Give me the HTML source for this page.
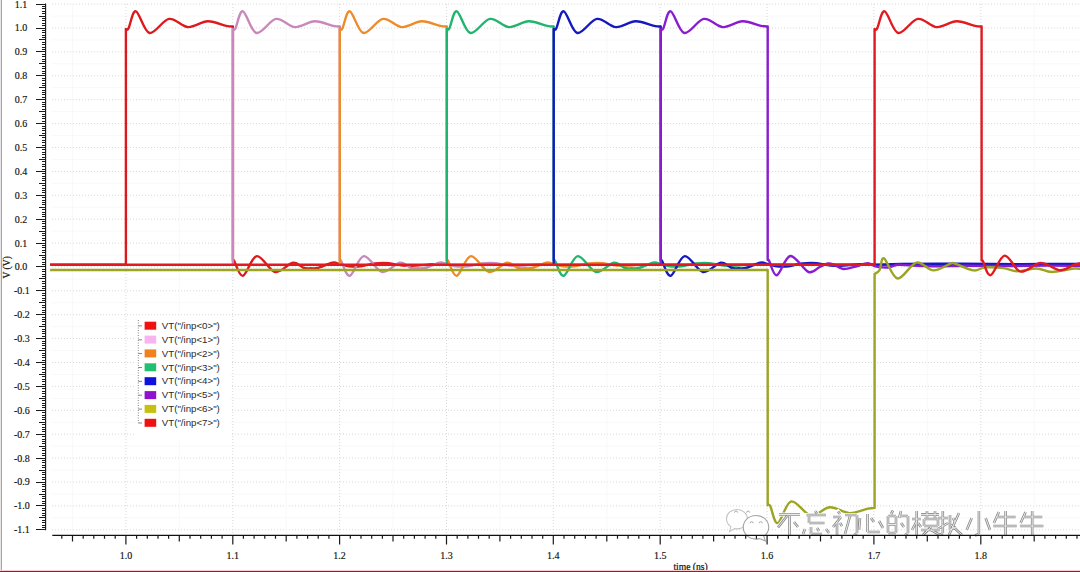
<!DOCTYPE html>
<html><head><meta charset="utf-8"><style>
html,body{margin:0;padding:0;background:#fff;}
body{width:1080px;height:572px;overflow:hidden;position:relative;}
svg{position:absolute;left:0;top:0;}
.gd{stroke:#d8d8d8;stroke-width:1;stroke-dasharray:1 2;}
.gs{stroke:#f8f8f8;stroke-width:1;}
.lab text{font-family:"Liberation Serif",serif;font-size:10px;fill:#111;stroke:#111;stroke-width:0.15px;}
.lab2{font-family:"Liberation Serif",serif;font-size:9.6px;fill:#111;stroke:#111;stroke-width:0.2px;}
.lt{font-family:"Liberation Sans",sans-serif;font-size:9.7px;fill:#2a2a2a;}
.wf path{fill:none;stroke-width:2.4;stroke-linejoin:round;stroke-linecap:butt;}
</style></head><body>
<svg width="1080" height="572" viewBox="0 0 1080 572">
<rect x="0" y="0" width="1" height="572" fill="#e6e6e6"/>
<rect x="1" y="0" width="1" height="572" fill="#a4a4a4"/>
<g><line x1="52" y1="529.8" x2="1080" y2="529.8" class="gd"/><line x1="52" y1="517.8" x2="1080" y2="517.8" class="gs"/><line x1="52" y1="505.9" x2="1080" y2="505.9" class="gd"/><line x1="52" y1="494.0" x2="1080" y2="494.0" class="gs"/><line x1="52" y1="482.0" x2="1080" y2="482.0" class="gd"/><line x1="52" y1="470.1" x2="1080" y2="470.1" class="gs"/><line x1="52" y1="458.1" x2="1080" y2="458.1" class="gd"/><line x1="52" y1="446.2" x2="1080" y2="446.2" class="gs"/><line x1="52" y1="434.2" x2="1080" y2="434.2" class="gd"/><line x1="52" y1="422.3" x2="1080" y2="422.3" class="gs"/><line x1="52" y1="410.3" x2="1080" y2="410.3" class="gd"/><line x1="52" y1="398.4" x2="1080" y2="398.4" class="gs"/><line x1="52" y1="386.4" x2="1080" y2="386.4" class="gd"/><line x1="52" y1="374.5" x2="1080" y2="374.5" class="gs"/><line x1="52" y1="362.5" x2="1080" y2="362.5" class="gd"/><line x1="52" y1="350.6" x2="1080" y2="350.6" class="gs"/><line x1="52" y1="338.6" x2="1080" y2="338.6" class="gd"/><line x1="52" y1="326.7" x2="1080" y2="326.7" class="gs"/><line x1="52" y1="314.7" x2="1080" y2="314.7" class="gd"/><line x1="52" y1="302.8" x2="1080" y2="302.8" class="gs"/><line x1="52" y1="290.8" x2="1080" y2="290.8" class="gd"/><line x1="52" y1="278.9" x2="1080" y2="278.9" class="gs"/><line x1="52" y1="266.9" x2="1080" y2="266.9" class="gd"/><line x1="52" y1="255.0" x2="1080" y2="255.0" class="gs"/><line x1="52" y1="243.1" x2="1080" y2="243.1" class="gd"/><line x1="52" y1="231.1" x2="1080" y2="231.1" class="gs"/><line x1="52" y1="219.2" x2="1080" y2="219.2" class="gd"/><line x1="52" y1="207.2" x2="1080" y2="207.2" class="gs"/><line x1="52" y1="195.3" x2="1080" y2="195.3" class="gd"/><line x1="52" y1="183.3" x2="1080" y2="183.3" class="gs"/><line x1="52" y1="171.4" x2="1080" y2="171.4" class="gd"/><line x1="52" y1="159.4" x2="1080" y2="159.4" class="gs"/><line x1="52" y1="147.5" x2="1080" y2="147.5" class="gd"/><line x1="52" y1="135.5" x2="1080" y2="135.5" class="gs"/><line x1="52" y1="123.6" x2="1080" y2="123.6" class="gd"/><line x1="52" y1="111.6" x2="1080" y2="111.6" class="gs"/><line x1="52" y1="99.7" x2="1080" y2="99.7" class="gd"/><line x1="52" y1="87.7" x2="1080" y2="87.7" class="gs"/><line x1="52" y1="75.8" x2="1080" y2="75.8" class="gd"/><line x1="52" y1="63.8" x2="1080" y2="63.8" class="gs"/><line x1="52" y1="51.9" x2="1080" y2="51.9" class="gd"/><line x1="52" y1="39.9" x2="1080" y2="39.9" class="gs"/><line x1="52" y1="28.0" x2="1080" y2="28.0" class="gd"/><line x1="52" y1="16.1" x2="1080" y2="16.1" class="gs"/><line x1="52" y1="4.1" x2="1080" y2="4.1" class="gd"/><line x1="72.5" y1="4" x2="72.5" y2="534" class="gs"/><line x1="125.9" y1="4" x2="125.9" y2="534" class="gd"/><line x1="179.3" y1="4" x2="179.3" y2="534" class="gs"/><line x1="232.8" y1="4" x2="232.8" y2="534" class="gd"/><line x1="286.2" y1="4" x2="286.2" y2="534" class="gs"/><line x1="339.6" y1="4" x2="339.6" y2="534" class="gd"/><line x1="393.0" y1="4" x2="393.0" y2="534" class="gs"/><line x1="446.5" y1="4" x2="446.5" y2="534" class="gd"/><line x1="499.9" y1="4" x2="499.9" y2="534" class="gs"/><line x1="553.3" y1="4" x2="553.3" y2="534" class="gd"/><line x1="606.8" y1="4" x2="606.8" y2="534" class="gs"/><line x1="660.2" y1="4" x2="660.2" y2="534" class="gd"/><line x1="713.6" y1="4" x2="713.6" y2="534" class="gs"/><line x1="767.1" y1="4" x2="767.1" y2="534" class="gd"/><line x1="820.5" y1="4" x2="820.5" y2="534" class="gs"/><line x1="873.9" y1="4" x2="873.9" y2="534" class="gd"/><line x1="927.3" y1="4" x2="927.3" y2="534" class="gs"/><line x1="980.8" y1="4" x2="980.8" y2="534" class="gd"/><line x1="1034.2" y1="4" x2="1034.2" y2="534" class="gs"/></g>
<g class="wf"><path d="M50.1 264.7L125.9 264.7L125.9 29.0C126.3 28.9 126.8 31.2 128.5 28.3C130.2 25.4 132.4 10.5 135.9 11.3C139.4 12.1 144.0 31.7 149.5 33.0C155.0 34.3 162.6 19.9 169.0 18.9C175.5 17.9 181.7 26.7 188.1 27.1C194.5 27.5 201.3 21.5 207.7 21.3C214.0 21.1 222.0 24.9 226.2 25.8C230.4 26.7 231.8 26.4 232.9 26.5L232.9 260.4L232.9 260.4C233.1 260.4 232.4 258.0 234.1 260.6C235.7 263.2 239.1 276.6 242.9 275.8C246.7 275.1 251.5 256.7 256.9 256.1C262.2 255.5 269.2 270.9 275.2 272.0C281.2 273.1 288.1 263.4 292.9 262.7C297.6 262.0 300.9 267.1 303.9 268.0C306.9 268.9 308.5 268.3 310.9 268.3C313.2 268.3 314.3 268.9 317.9 268.0C321.4 267.1 328.7 263.4 332.4 262.7C336.0 262.0 337.1 263.4 339.9 264.0C342.6 264.6 345.4 265.9 348.9 266.3C352.4 266.7 356.5 266.7 360.9 266.2C365.2 265.7 370.2 263.9 374.9 263.4C379.5 262.9 384.2 262.8 388.9 263.2C393.5 263.6 397.9 265.2 402.9 265.6C407.9 266.0 413.9 265.6 418.9 265.4C423.9 265.2 428.0 264.4 432.9 264.3C437.7 264.2 445.4 264.8 447.9 264.9L1082.0 264.7" stroke="#dc1a1e"/><path d="M232.9 264.7L232.9 29.0C233.3 28.9 233.8 31.2 235.5 28.3C237.1 25.4 239.4 10.5 242.9 11.3C246.4 12.1 250.9 31.7 256.4 33.0C262.0 34.3 269.6 19.9 276.0 18.9C282.4 17.9 288.6 26.7 295.1 27.1C301.5 27.5 308.3 21.5 314.6 21.3C321.0 21.1 329.0 24.9 333.2 25.8C337.4 26.7 338.7 26.4 339.8 26.5L339.8 260.4L339.8 260.4C340.0 260.4 339.4 258.0 341.0 260.6C342.7 263.2 346.0 276.6 349.8 275.8C353.6 275.1 358.4 256.7 363.8 256.1C369.2 255.5 376.1 270.9 382.1 272.0C388.1 273.1 395.0 263.4 399.8 262.7C404.6 262.0 407.8 267.1 410.8 268.0C413.8 268.9 415.5 268.3 417.8 268.3C420.2 268.3 421.2 268.9 424.8 268.0C428.4 267.1 435.7 263.4 439.3 262.7C443.0 262.0 444.1 263.4 446.8 264.0C449.6 264.6 452.3 265.9 455.8 266.3C459.3 266.7 463.5 266.7 467.8 266.2C472.2 265.7 477.2 263.9 481.8 263.4C486.5 262.9 491.2 262.8 495.8 263.2C500.5 263.6 504.8 265.2 509.8 265.6C514.8 266.0 520.8 265.6 525.8 265.4C530.8 265.2 535.0 264.4 539.8 264.3C544.7 264.2 552.3 264.8 554.8 264.9L1082.0 264.7" stroke="#c888bc"/><path d="M339.8 264.7L339.8 29.0C340.3 28.9 340.8 31.2 342.4 28.3C344.1 25.4 346.4 10.5 349.9 11.3C353.3 12.1 357.9 31.7 363.4 33.0C368.9 34.3 376.5 19.9 383.0 18.9C389.4 17.9 395.6 26.7 402.0 27.1C408.5 27.5 415.2 21.5 421.6 21.3C427.9 21.1 436.0 24.9 440.2 25.8C444.4 26.7 445.7 26.4 446.8 26.5L446.8 260.4L446.8 260.4C447.0 260.4 446.3 258.0 448.0 260.6C449.6 263.2 453.0 276.6 456.8 275.8C460.6 275.1 465.4 256.7 470.8 256.1C476.2 255.5 483.1 270.9 489.1 272.0C495.1 273.1 502.0 263.4 506.8 262.7C511.6 262.0 514.8 267.1 517.8 268.0C520.8 268.9 522.4 268.3 524.8 268.3C527.1 268.3 528.2 268.9 531.8 268.0C535.4 267.1 542.6 263.4 546.3 262.7C549.9 262.0 551.0 263.4 553.8 264.0C556.5 264.6 559.3 265.9 562.8 266.3C566.3 266.7 570.4 266.7 574.8 266.2C579.1 265.7 584.1 263.9 588.8 263.4C593.4 262.9 598.1 262.8 602.8 263.2C607.4 263.6 611.8 265.2 616.8 265.6C621.8 266.0 627.8 265.6 632.8 265.4C637.8 265.2 641.9 264.4 646.8 264.3C651.6 264.2 659.3 264.8 661.8 264.9L1082.0 264.7" stroke="#ee8a28"/><path d="M446.8 264.7L446.8 29.0C447.2 28.9 447.7 31.2 449.4 28.3C451.1 25.4 453.3 10.5 456.8 11.3C460.3 12.1 464.8 31.7 470.4 33.0C475.9 34.3 483.5 19.9 489.9 18.9C496.4 17.9 502.6 26.7 509.0 27.1C515.4 27.5 522.2 21.5 528.6 21.3C534.9 21.1 542.9 24.9 547.1 25.8C551.3 26.7 552.6 26.4 553.7 26.5L553.7 260.4L553.7 260.4C553.9 260.4 553.3 258.0 554.9 260.6C556.6 263.2 559.9 276.6 563.7 275.8C567.5 275.1 572.4 256.7 577.7 256.1C583.1 255.5 590.0 270.9 596.0 272.0C602.0 273.1 609.0 263.4 613.7 262.7C618.5 262.0 621.7 267.1 624.7 268.0C627.7 268.9 629.4 268.3 631.7 268.3C634.1 268.3 635.2 268.9 638.7 268.0C642.3 267.1 649.6 263.4 653.2 262.7C656.9 262.0 658.0 263.4 660.7 264.0C663.5 264.6 666.2 265.9 669.7 266.3C673.2 266.7 677.4 266.7 681.7 266.2C686.1 265.7 691.1 263.9 695.7 263.4C700.4 262.9 705.1 262.8 709.7 263.2C714.4 263.6 718.7 265.2 723.7 265.6C728.7 266.0 734.7 265.6 739.7 265.4C744.7 265.2 748.9 264.4 753.7 264.3C758.6 264.2 766.2 264.8 768.7 264.9L1082.0 264.7" stroke="#22b46e"/><path d="M553.7 264.7L553.7 29.0C554.2 28.9 554.7 31.2 556.3 28.3C558.0 25.4 560.3 10.5 563.8 11.3C567.3 12.1 571.8 31.7 577.3 33.0C582.8 34.3 590.4 19.9 596.9 18.9C603.3 17.9 609.5 26.7 615.9 27.1C622.4 27.5 629.2 21.5 635.5 21.3C641.9 21.1 649.9 24.9 654.1 25.8C658.3 26.7 659.6 26.4 660.7 26.5L660.7 260.4L660.7 260.4C660.9 260.4 660.2 258.0 661.9 260.6C663.6 263.2 666.9 276.6 670.7 275.8C674.5 275.1 679.3 256.7 684.7 256.1C690.1 255.5 697.0 270.9 703.0 272.0C709.0 273.1 715.9 263.4 720.7 262.7C725.5 262.0 728.7 267.1 731.7 268.0C734.7 268.9 736.4 268.3 738.7 268.3C741.0 268.3 742.1 268.9 745.7 268.0C749.3 267.1 756.5 263.4 760.2 262.7C763.9 262.0 764.9 263.4 767.7 264.0C770.4 264.6 773.2 265.9 776.7 266.3C780.2 266.7 784.4 266.7 788.7 266.2C793.0 265.7 798.0 263.9 802.7 263.4C807.4 262.9 812.0 262.8 816.7 263.2C821.4 263.6 825.7 265.2 830.7 265.6C835.7 266.0 841.7 265.6 846.7 265.4C851.7 265.2 855.9 264.4 860.7 264.3C865.5 264.2 869.0 264.9 875.7 264.9C882.4 264.8 886.5 264.2 900.7 264.0C914.9 263.8 940.7 263.8 960.7 263.8C980.7 263.8 1000.7 264.1 1020.7 264.1C1040.7 264.1 1070.7 263.9 1080.7 263.9" stroke="#1418c0"/><path d="M660.7 264.7L660.7 29.0C661.1 28.9 661.6 31.2 663.3 28.3C665.0 25.4 667.2 10.5 670.7 11.3C674.2 12.1 678.8 31.7 684.3 33.0C689.8 34.3 697.4 19.9 703.8 18.9C710.3 17.9 716.5 26.7 722.9 27.1C729.3 27.5 736.1 21.5 742.5 21.3C748.8 21.1 756.8 24.9 761.0 25.8C765.2 26.7 766.6 26.4 767.7 26.5L767.7 260.0L767.7 260.0C767.9 260.1 767.3 257.8 768.9 260.3C770.4 262.8 773.2 275.9 776.8 275.2C780.3 274.5 785.1 256.5 790.4 256.0C795.6 255.5 803.6 270.2 808.5 272.0C813.3 273.8 816.5 268.4 819.7 267.0C822.9 265.6 825.3 263.9 827.7 263.5C830.0 263.1 831.1 263.6 833.7 264.5C836.3 265.4 839.6 268.7 843.3 269.0C846.9 269.3 851.6 267.5 855.7 266.5C859.7 265.5 864.5 263.3 867.7 263.2C870.8 263.1 872.2 265.3 874.7 266.0C877.2 266.7 880.2 267.2 882.7 267.4C885.2 267.6 887.2 267.6 889.7 267.2C892.2 266.8 893.8 265.1 897.7 264.8C901.5 264.5 906.0 265.4 912.7 265.6C919.3 265.8 928.5 266.2 937.7 266.2C946.8 266.2 956.0 265.7 967.7 265.7C979.3 265.7 994.3 266.0 1007.7 266.0C1021.0 266.0 1035.2 265.6 1047.7 265.6C1060.2 265.6 1076.8 265.9 1082.7 266.0" stroke="#8a1cd0"/><path d="M50.1 270.0L767.7 270.0L767.7 505.4C768.1 505.5 768.6 503.1 770.3 506.1C771.9 509.0 774.2 523.9 777.7 523.1C781.2 522.3 785.7 502.7 791.2 501.4C796.8 500.1 804.4 514.5 810.8 515.5C817.2 516.5 823.4 507.7 829.9 507.3C836.3 506.9 843.1 512.9 849.4 513.1C855.8 513.3 863.8 509.5 868.0 508.6C872.2 507.7 873.5 508.0 874.6 507.9L874.6 274.0C875.5 273.3 878.1 272.6 879.6 270.0C881.2 267.4 881.0 257.0 884.0 258.4C887.0 259.8 892.2 277.8 897.6 278.5C903.0 279.2 910.5 264.0 916.4 262.6C922.4 261.2 927.6 270.2 933.3 270.4C939.0 270.6 946.9 264.7 950.6 263.6C954.3 262.5 951.8 262.8 955.6 263.9C959.5 265.0 968.7 269.8 973.6 270.4C978.5 271.0 980.2 267.8 985.1 267.4C990.1 267.0 998.0 267.5 1003.3 268.1C1008.7 268.8 1011.6 271.2 1017.1 271.3C1022.7 271.4 1030.8 268.4 1036.6 268.5C1042.4 268.6 1045.6 272.0 1051.8 272.0C1058.1 272.0 1068.6 268.9 1074.0 268.5C1079.5 268.1 1082.9 269.3 1084.6 269.5" stroke="#9ca424"/><path d="M50.1 264.7L874.6 264.7L874.6 29.0C875.1 28.9 875.6 31.2 877.2 28.3C878.9 25.4 881.2 10.5 884.7 11.3C888.1 12.1 892.7 31.7 898.2 33.0C903.7 34.3 911.3 19.9 917.8 18.9C924.2 17.9 930.4 26.7 936.8 27.1C943.3 27.5 950.0 21.5 956.4 21.3C962.7 21.1 970.8 24.9 975.0 25.8C979.2 26.7 980.5 26.4 981.6 26.5L981.6 260.6L981.6 260.6C981.8 260.6 981.3 258.4 982.8 260.8C984.3 263.2 986.9 276.1 990.6 275.2C994.2 274.3 999.6 256.2 1004.6 255.6C1009.6 255.0 1014.6 270.4 1020.6 271.6C1026.6 272.8 1034.1 263.1 1040.6 262.9C1047.1 262.7 1054.1 269.8 1059.6 270.2C1065.1 270.6 1070.2 266.1 1073.6 265.0C1076.9 263.9 1078.6 263.8 1079.6 263.5L1082.0 264.7" stroke="#e01a1e"/></g>
<g><path d="M737 509.5c-6 0 -10.5 4 -10.5 9.5c0 3.2 1.7 5.8 4.4 7.6l-1.4 5l5.2 -3c0.7 0.2 1.5 0.3 2.3 0.3c6 0 10.5 -4.2 10.5 -9.6c0 -5.6 -4.5 -9.8 -10.5 -9.8z" fill="#fff" stroke="#c4c4c4" stroke-width="1.1"/><path d="M756 515.5c-7.2 0 -12.7 5.2 -12.7 11.8c0 6.6 5.5 11.8 12.7 11.8c1.2 0 2.3 -0.2 3.4 -0.5l6 2.4l-1.6 -4.6c3 -2.2 4.9 -5.5 4.9 -9.1c0 -6.6 -5.5 -11.8 -12.7 -11.8z" fill="#fff" stroke="#a4a4a4" stroke-width="1.1"/><path d="M734.6 512.6a1.5 1.5 0 0 1 3 0M746.6 512.6a1.5 1.5 0 0 1 3 0M750.2 523.2a1.5 1.5 0 0 1 3 0M759.2 523.2a1.5 1.5 0 0 1 3 0" fill="none" stroke="#a8a8a8" stroke-width="1"/><path d="M779.0 514.5L800.0 514.5M787.0 516.0L778.0 527.5M789.5 516.0L789.5 535.0M794.0 522.0L798.0 527.0M815.0 511.0L817.0 513.5M806.5 515.0L826.0 515.0M809.0 515.5L809.0 523.0M809.0 523.0L824.5 523.0M805.0 529.0L803.0 534.0M811.0 527.0L811.0 534.0M811.0 534.0L822.0 534.0M817.0 528.0L819.0 531.0M826.0 529.0L829.0 533.0M838.0 511.5L840.0 514.0M833.0 517.0L841.0 517.0M841.0 517.0L833.0 527.0M837.0 522.0L837.0 535.0M840.0 523.0L842.0 526.0M845.0 515.0L857.0 515.0M857.0 515.0L857.0 533.0M857.0 533.0L854.0 535.0M850.0 516.0L845.0 534.0M860.0 518.0L859.0 530.0M867.5 514.0L867.5 532.0M867.5 532.0L880.0 532.0M871.0 518.0L874.0 522.0M879.0 521.0L883.0 528.0M893.0 510.5L891.0 514.0M888.0 516.0L888.0 533.0M888.0 516.0L896.0 516.0M896.0 516.0L896.0 533.0M888.0 524.5L896.0 524.5M888.0 533.0L896.0 533.0M901.0 511.0L899.0 518.0M899.0 516.0L908.0 516.0M908.0 516.0L908.0 533.0M908.0 533.0L905.0 535.0M901.0 523.0L904.0 527.0M912.0 519.0L921.0 519.0M916.7 511.0L916.7 535.0M916.7 521.0L912.0 530.0M918.0 523.0L921.0 527.0M921.0 514.4L939.0 514.4M927.0 511.0L927.0 518.0M935.0 511.0L935.0 518.0M924.0 519.0L938.0 519.0M924.0 519.0L924.0 526.0M938.0 519.0L938.0 526.0M924.0 526.0L938.0 526.0M921.0 530.0L940.0 530.0M931.0 527.0L923.0 535.0M931.0 530.0L940.0 535.0M938.0 518.0L948.0 518.0M942.8 511.0L942.8 533.0M942.8 533.0L940.0 535.0M938.0 529.0L948.0 523.0M950.0 515.0L950.0 530.0M950.0 530.0L956.0 527.0M953.0 518.0L955.0 522.0M959.0 513.0L949.0 535.0M951.0 525.0L962.0 535.0M978.9 511.0L978.9 534.0M978.9 534.0L975.0 535.5M971.7 518.0L966.7 530.0M985.6 518.0L990.0 530.0M998.9 512.0L993.9 523.0M996.7 517.0L1015.6 517.0M993.3 526.0L1016.7 526.0M1005.6 511.0L1005.6 535.0M1025.6 512.0L1020.6 523.0M1023.3 517.0L1042.3 517.0M1020.0 526.0L1043.4 526.0M1032.2 511.0L1032.2 535.0" stroke="#ffffff" stroke-width="4.2" stroke-linecap="square" fill="none"/><path d="M779.0 514.5L800.0 514.5M787.0 516.0L778.0 527.5M789.5 516.0L789.5 535.0M794.0 522.0L798.0 527.0M815.0 511.0L817.0 513.5M806.5 515.0L826.0 515.0M809.0 515.5L809.0 523.0M809.0 523.0L824.5 523.0M805.0 529.0L803.0 534.0M811.0 527.0L811.0 534.0M811.0 534.0L822.0 534.0M817.0 528.0L819.0 531.0M826.0 529.0L829.0 533.0M838.0 511.5L840.0 514.0M833.0 517.0L841.0 517.0M841.0 517.0L833.0 527.0M837.0 522.0L837.0 535.0M840.0 523.0L842.0 526.0M845.0 515.0L857.0 515.0M857.0 515.0L857.0 533.0M857.0 533.0L854.0 535.0M850.0 516.0L845.0 534.0M860.0 518.0L859.0 530.0M867.5 514.0L867.5 532.0M867.5 532.0L880.0 532.0M871.0 518.0L874.0 522.0M879.0 521.0L883.0 528.0M893.0 510.5L891.0 514.0M888.0 516.0L888.0 533.0M888.0 516.0L896.0 516.0M896.0 516.0L896.0 533.0M888.0 524.5L896.0 524.5M888.0 533.0L896.0 533.0M901.0 511.0L899.0 518.0M899.0 516.0L908.0 516.0M908.0 516.0L908.0 533.0M908.0 533.0L905.0 535.0M901.0 523.0L904.0 527.0M912.0 519.0L921.0 519.0M916.7 511.0L916.7 535.0M916.7 521.0L912.0 530.0M918.0 523.0L921.0 527.0M921.0 514.4L939.0 514.4M927.0 511.0L927.0 518.0M935.0 511.0L935.0 518.0M924.0 519.0L938.0 519.0M924.0 519.0L924.0 526.0M938.0 519.0L938.0 526.0M924.0 526.0L938.0 526.0M921.0 530.0L940.0 530.0M931.0 527.0L923.0 535.0M931.0 530.0L940.0 535.0M938.0 518.0L948.0 518.0M942.8 511.0L942.8 533.0M942.8 533.0L940.0 535.0M938.0 529.0L948.0 523.0M950.0 515.0L950.0 530.0M950.0 530.0L956.0 527.0M953.0 518.0L955.0 522.0M959.0 513.0L949.0 535.0M951.0 525.0L962.0 535.0M978.9 511.0L978.9 534.0M978.9 534.0L975.0 535.5M971.7 518.0L966.7 530.0M985.6 518.0L990.0 530.0M998.9 512.0L993.9 523.0M996.7 517.0L1015.6 517.0M993.3 526.0L1016.7 526.0M1005.6 511.0L1005.6 535.0M1025.6 512.0L1020.6 523.0M1023.3 517.0L1042.3 517.0M1020.0 526.0L1043.4 526.0M1032.2 511.0L1032.2 535.0" stroke="#8c8c8c" stroke-width="2.6" stroke-linecap="butt" fill="none"/><path d="M779.0 514.5L800.0 514.5M787.0 516.0L778.0 527.5M789.5 516.0L789.5 535.0M794.0 522.0L798.0 527.0M815.0 511.0L817.0 513.5M806.5 515.0L826.0 515.0M809.0 515.5L809.0 523.0M809.0 523.0L824.5 523.0M805.0 529.0L803.0 534.0M811.0 527.0L811.0 534.0M811.0 534.0L822.0 534.0M817.0 528.0L819.0 531.0M826.0 529.0L829.0 533.0M838.0 511.5L840.0 514.0M833.0 517.0L841.0 517.0M841.0 517.0L833.0 527.0M837.0 522.0L837.0 535.0M840.0 523.0L842.0 526.0M845.0 515.0L857.0 515.0M857.0 515.0L857.0 533.0M857.0 533.0L854.0 535.0M850.0 516.0L845.0 534.0M860.0 518.0L859.0 530.0M867.5 514.0L867.5 532.0M867.5 532.0L880.0 532.0M871.0 518.0L874.0 522.0M879.0 521.0L883.0 528.0M893.0 510.5L891.0 514.0M888.0 516.0L888.0 533.0M888.0 516.0L896.0 516.0M896.0 516.0L896.0 533.0M888.0 524.5L896.0 524.5M888.0 533.0L896.0 533.0M901.0 511.0L899.0 518.0M899.0 516.0L908.0 516.0M908.0 516.0L908.0 533.0M908.0 533.0L905.0 535.0M901.0 523.0L904.0 527.0M912.0 519.0L921.0 519.0M916.7 511.0L916.7 535.0M916.7 521.0L912.0 530.0M918.0 523.0L921.0 527.0M921.0 514.4L939.0 514.4M927.0 511.0L927.0 518.0M935.0 511.0L935.0 518.0M924.0 519.0L938.0 519.0M924.0 519.0L924.0 526.0M938.0 519.0L938.0 526.0M924.0 526.0L938.0 526.0M921.0 530.0L940.0 530.0M931.0 527.0L923.0 535.0M931.0 530.0L940.0 535.0M938.0 518.0L948.0 518.0M942.8 511.0L942.8 533.0M942.8 533.0L940.0 535.0M938.0 529.0L948.0 523.0M950.0 515.0L950.0 530.0M950.0 530.0L956.0 527.0M953.0 518.0L955.0 522.0M959.0 513.0L949.0 535.0M951.0 525.0L962.0 535.0M978.9 511.0L978.9 534.0M978.9 534.0L975.0 535.5M971.7 518.0L966.7 530.0M985.6 518.0L990.0 530.0M998.9 512.0L993.9 523.0M996.7 517.0L1015.6 517.0M993.3 526.0L1016.7 526.0M1005.6 511.0L1005.6 535.0M1025.6 512.0L1020.6 523.0M1023.3 517.0L1042.3 517.0M1020.0 526.0L1043.4 526.0M1032.2 511.0L1032.2 535.0" stroke="#f4f4f4" stroke-width="0.9" stroke-linecap="butt" fill="none"/></g>
<path d="M36.2 529.8H45M42.2 527.4H45M42.2 525.0H45M42.2 522.6H45M42.2 520.2H45M39.3 517.8H45M42.2 515.5H45M42.2 513.1H45M42.2 510.7H45M42.2 508.3H45M36.2 505.9H45M42.2 503.5H45M42.2 501.1H45M42.2 498.7H45M42.2 496.3H45M39.3 494.0H45M42.2 491.6H45M42.2 489.2H45M42.2 486.8H45M42.2 484.4H45M36.2 482.0H45M42.2 479.6H45M42.2 477.2H45M42.2 474.8H45M42.2 472.4H45M39.3 470.1H45M42.2 467.7H45M42.2 465.3H45M42.2 462.9H45M42.2 460.5H45M36.2 458.1H45M42.2 455.7H45M42.2 453.3H45M42.2 450.9H45M42.2 448.6H45M39.3 446.2H45M42.2 443.8H45M42.2 441.4H45M42.2 439.0H45M42.2 436.6H45M36.2 434.2H45M42.2 431.8H45M42.2 429.4H45M42.2 427.0H45M42.2 424.7H45M39.3 422.3H45M42.2 419.9H45M42.2 417.5H45M42.2 415.1H45M42.2 412.7H45M36.2 410.3H45M42.2 407.9H45M42.2 405.5H45M42.2 403.2H45M42.2 400.8H45M39.3 398.4H45M42.2 396.0H45M42.2 393.6H45M42.2 391.2H45M42.2 388.8H45M36.2 386.4H45M42.2 384.0H45M42.2 381.6H45M42.2 379.3H45M42.2 376.9H45M39.3 374.5H45M42.2 372.1H45M42.2 369.7H45M42.2 367.3H45M42.2 364.9H45M36.2 362.5H45M42.2 360.1H45M42.2 357.8H45M42.2 355.4H45M42.2 353.0H45M39.3 350.6H45M42.2 348.2H45M42.2 345.8H45M42.2 343.4H45M42.2 341.0H45M36.2 338.6H45M42.2 336.2H45M42.2 333.9H45M42.2 331.5H45M42.2 329.1H45M39.3 326.7H45M42.2 324.3H45M42.2 321.9H45M42.2 319.5H45M42.2 317.1H45M36.2 314.7H45M42.2 312.4H45M42.2 310.0H45M42.2 307.6H45M42.2 305.2H45M39.3 302.8H45M42.2 300.4H45M42.2 298.0H45M42.2 295.6H45M42.2 293.2H45M36.2 290.8H45M42.2 288.5H45M42.2 286.1H45M42.2 283.7H45M42.2 281.3H45M39.3 278.9H45M42.2 276.5H45M42.2 274.1H45M42.2 271.7H45M42.2 269.3H45M36.2 266.9H45M42.2 264.6H45M42.2 262.2H45M42.2 259.8H45M42.2 257.4H45M39.3 255.0H45M42.2 252.6H45M42.2 250.2H45M42.2 247.8H45M42.2 245.4H45M36.2 243.1H45M42.2 240.7H45M42.2 238.3H45M42.2 235.9H45M42.2 233.5H45M39.3 231.1H45M42.2 228.7H45M42.2 226.3H45M42.2 223.9H45M42.2 221.5H45M36.2 219.2H45M42.2 216.8H45M42.2 214.4H45M42.2 212.0H45M42.2 209.6H45M39.3 207.2H45M42.2 204.8H45M42.2 202.4H45M42.2 200.0H45M42.2 197.7H45M36.2 195.3H45M42.2 192.9H45M42.2 190.5H45M42.2 188.1H45M42.2 185.7H45M39.3 183.3H45M42.2 180.9H45M42.2 178.5H45M42.2 176.1H45M42.2 173.8H45M36.2 171.4H45M42.2 169.0H45M42.2 166.6H45M42.2 164.2H45M42.2 161.8H45M39.3 159.4H45M42.2 157.0H45M42.2 154.6H45M42.2 152.3H45M42.2 149.9H45M36.2 147.5H45M42.2 145.1H45M42.2 142.7H45M42.2 140.3H45M42.2 137.9H45M39.3 135.5H45M42.2 133.1H45M42.2 130.7H45M42.2 128.4H45M42.2 126.0H45M36.2 123.6H45M42.2 121.2H45M42.2 118.8H45M42.2 116.4H45M42.2 114.0H45M39.3 111.6H45M42.2 109.2H45M42.2 106.9H45M42.2 104.5H45M42.2 102.1H45M36.2 99.7H45M42.2 97.3H45M42.2 94.9H45M42.2 92.5H45M42.2 90.1H45M39.3 87.7H45M42.2 85.3H45M42.2 83.0H45M42.2 80.6H45M42.2 78.2H45M36.2 75.8H45M42.2 73.4H45M42.2 71.0H45M42.2 68.6H45M42.2 66.2H45M39.3 63.8H45M42.2 61.5H45M42.2 59.1H45M42.2 56.7H45M42.2 54.3H45M36.2 51.9H45M42.2 49.5H45M42.2 47.1H45M42.2 44.7H45M42.2 42.3H45M39.3 39.9H45M42.2 37.6H45M42.2 35.2H45M42.2 32.8H45M42.2 30.4H45M36.2 28.0H45M42.2 25.6H45M42.2 23.2H45M42.2 20.8H45M42.2 18.4H45M39.3 16.1H45M42.2 13.7H45M42.2 11.3H45M42.2 8.9H45M42.2 6.5H45M36.2 4.1H45" stroke="#1a1a1a" stroke-width="1" shape-rendering="crispEdges"/><line x1="45.6" y1="3.6" x2="45.6" y2="530.3" stroke="#111" stroke-width="1.1"/><path d="M61.8 535V538.7M72.5 535V541.4M83.2 535V538.7M93.8 535V538.7M104.5 535V538.7M115.2 535V538.7M125.9 535V544.6M136.6 535V538.7M147.3 535V538.7M158.0 535V538.7M168.6 535V538.7M179.3 535V541.4M190.0 535V538.7M200.7 535V538.7M211.4 535V538.7M222.1 535V538.7M232.8 535V544.6M243.4 535V538.7M254.1 535V538.7M264.8 535V538.7M275.5 535V538.7M286.2 535V541.4M296.9 535V538.7M307.6 535V538.7M318.2 535V538.7M328.9 535V538.7M339.6 535V544.6M350.3 535V538.7M361.0 535V538.7M371.7 535V538.7M382.4 535V538.7M393.0 535V541.4M403.7 535V538.7M414.4 535V538.7M425.1 535V538.7M435.8 535V538.7M446.5 535V544.6M457.2 535V538.7M467.9 535V538.7M478.5 535V538.7M489.2 535V538.7M499.9 535V541.4M510.6 535V538.7M521.3 535V538.7M532.0 535V538.7M542.7 535V538.7M553.3 535V544.6M564.0 535V538.7M574.7 535V538.7M585.4 535V538.7M596.1 535V538.7M606.8 535V541.4M617.5 535V538.7M628.1 535V538.7M638.8 535V538.7M649.5 535V538.7M660.2 535V544.6M670.9 535V538.7M681.6 535V538.7M692.3 535V538.7M702.9 535V538.7M713.6 535V541.4M724.3 535V538.7M735.0 535V538.7M745.7 535V538.7M756.4 535V538.7M767.1 535V544.6M777.7 535V538.7M788.4 535V538.7M799.1 535V538.7M809.8 535V538.7M820.5 535V541.4M831.2 535V538.7M841.9 535V538.7M852.5 535V538.7M863.2 535V538.7M873.9 535V544.6M884.6 535V538.7M895.3 535V538.7M906.0 535V538.7M916.7 535V538.7M927.3 535V541.4M938.0 535V538.7M948.7 535V538.7M959.4 535V538.7M970.1 535V538.7M980.8 535V544.6M991.5 535V538.7M1002.2 535V538.7M1012.8 535V538.7M1023.5 535V538.7M1034.2 535V541.4M1044.9 535V538.7M1055.6 535V538.7M1066.3 535V538.7M1077.0 535V538.7" stroke="#1a1a1a" stroke-width="1.2"/><line x1="52.3" y1="535.4" x2="1080" y2="535.4" stroke="#111" stroke-width="1.3"/>
<g class="lab"><text x="14.0" y="533.2">-1.1</text><text x="14.0" y="509.3">-1.0</text><text x="14.0" y="485.4">-0.9</text><text x="14.0" y="461.5">-0.8</text><text x="14.0" y="437.6">-0.7</text><text x="14.0" y="413.7">-0.6</text><text x="14.0" y="389.8">-0.5</text><text x="14.0" y="365.9">-0.4</text><text x="14.0" y="342.0">-0.3</text><text x="14.0" y="318.1">-0.2</text><text x="14.0" y="294.2">-0.1</text><text x="14.7" y="270.3">0.0</text><text x="14.7" y="246.5">0.1</text><text x="14.7" y="222.6">0.2</text><text x="14.7" y="198.7">0.3</text><text x="14.7" y="174.8">0.4</text><text x="14.7" y="150.9">0.5</text><text x="14.7" y="127.0">0.6</text><text x="14.7" y="103.1">0.7</text><text x="14.7" y="79.2">0.8</text><text x="14.7" y="55.3">0.9</text><text x="14.7" y="31.4">1.0</text><text x="14.7" y="7.5">1.1</text><text x="125.9" y="558.8" text-anchor="middle">1.0</text><text x="232.8" y="558.8" text-anchor="middle">1.1</text><text x="339.6" y="558.8" text-anchor="middle">1.2</text><text x="446.5" y="558.8" text-anchor="middle">1.3</text><text x="553.3" y="558.8" text-anchor="middle">1.4</text><text x="660.2" y="558.8" text-anchor="middle">1.5</text><text x="767.1" y="558.8" text-anchor="middle">1.6</text><text x="873.9" y="558.8" text-anchor="middle">1.7</text><text x="980.8" y="558.8" text-anchor="middle">1.8</text></g><text x="0" y="0" class="lab2" transform="translate(9.7 267.3) rotate(-90)" text-anchor="middle">V (V)</text><text x="690.6" y="570.2" class="lab2" text-anchor="middle">time (ns)</text>
<g><rect x="135" y="317" width="95" height="122" fill="#fff"/><line x1="138.3" y1="320" x2="138.3" y2="423" stroke="#888" stroke-width="1" stroke-dasharray="1 1.5"/><line x1="138.3" y1="325.9" x2="142" y2="325.9" stroke="#888" stroke-width="1"/><rect x="144.6" y="321.7" width="11.6" height="8" fill="#f01010"/><text x="161.8" y="328.9" class="lt">VT(&quot;/inp&lt;0&gt;&quot;)</text><line x1="138.3" y1="339.8" x2="142" y2="339.8" stroke="#888" stroke-width="1"/><rect x="144.6" y="335.6" width="11.6" height="8" fill="#f8b4f0"/><text x="161.8" y="342.8" class="lt">VT(&quot;/inp&lt;1&gt;&quot;)</text><line x1="138.3" y1="353.6" x2="142" y2="353.6" stroke="#888" stroke-width="1"/><rect x="144.6" y="349.4" width="11.6" height="8" fill="#f08020"/><text x="161.8" y="356.6" class="lt">VT(&quot;/inp&lt;2&gt;&quot;)</text><line x1="138.3" y1="367.5" x2="142" y2="367.5" stroke="#888" stroke-width="1"/><rect x="144.6" y="363.3" width="11.6" height="8" fill="#20c070"/><text x="161.8" y="370.5" class="lt">VT(&quot;/inp&lt;3&gt;&quot;)</text><line x1="138.3" y1="381.4" x2="142" y2="381.4" stroke="#888" stroke-width="1"/><rect x="144.6" y="377.2" width="11.6" height="8" fill="#1010e0"/><text x="161.8" y="384.4" class="lt">VT(&quot;/inp&lt;4&gt;&quot;)</text><line x1="138.3" y1="395.2" x2="142" y2="395.2" stroke="#888" stroke-width="1"/><rect x="144.6" y="391.1" width="11.6" height="8" fill="#9010d0"/><text x="161.8" y="398.2" class="lt">VT(&quot;/inp&lt;5&gt;&quot;)</text><line x1="138.3" y1="409.1" x2="142" y2="409.1" stroke="#888" stroke-width="1"/><rect x="144.6" y="404.9" width="11.6" height="8" fill="#c8c010"/><text x="161.8" y="412.1" class="lt">VT(&quot;/inp&lt;6&gt;&quot;)</text><line x1="138.3" y1="423.0" x2="142" y2="423.0" stroke="#888" stroke-width="1"/><rect x="144.6" y="418.8" width="11.6" height="8" fill="#f01010"/><text x="161.8" y="426.0" class="lt">VT(&quot;/inp&lt;7&gt;&quot;)</text></g>
<rect x="0" y="570" width="1080" height="1" fill="#f8ccd4"/>
<rect x="0" y="571" width="1080" height="1" fill="#7c2636"/>
</svg>
</body></html>
